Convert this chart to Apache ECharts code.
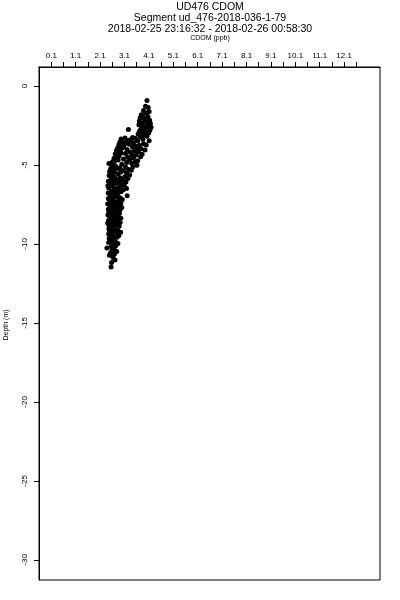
<!DOCTYPE html>
<html><head><meta charset="utf-8">
<script src="https://cdn.jsdelivr.net/npm/echarts@6/dist/echarts.min.js"></script>
<style>html,body{margin:0;padding:0;background:#fff}#c{width:400px;height:600px}</style>
</head><body><div id="c"></div>
<script>
var titleLines = ["UD476 CDOM", "Segment ud_476-2018-036-1-79", "2018-02-25 23:16:32 - 2018-02-26 00:58:30"];
var xAxisTitle = "CDOM (ppb)";
var yAxisTitle = "Depth (m)";
var xTickLabels = [0.1, 1.1, 2.1, 3.1, 4.1, 5.1, 6.1, 7.1, 8.1, 9.1, 10.1, 11.1, 12.1];
var xMinorTicks = [0.1,0.6,1.1,1.6,2.1,2.6,3.1,3.6,4.1,4.6,5.1,5.6,6.1,6.6,7.1,7.6,8.1,8.6,9.1,9.6,10.1,10.6,11.1,11.6,12.1,12.6];
var yTicks = [0, -5, -10, -15, -20, -25, -30];

var depth = [
 -0.92,-1.28,-1.36,-1.55,-1.62,-1.71,-1.83,-1.94,-2.02,-2.08,-2.17,-2.21,-2.33,-2.38,-2.46,-2.52,-2.57,-2.61,-2.69,-2.74,
 -2.81,-2.86,-2.93,-2.97,-3.04,-3.12,-2.76,-3.18,-3.22,-3.29,-3.31,-3.36,-3.41,-3.38,-3.47,-3.52,-3.55,-3.49,-3.61,-3.66,
 -3.58,-3.72,-3.69,-3.77,-3.81,-3.74,-3.86,-3.92,-3.88,-3.97,-4.03,-3.95,-4.08,-4.12,-4.06,-4.19,-4.24,-4.16,-4.28,-4.33,
 -4.31,-4.39,-4.44,-4.37,-4.51,-4.48,-4.57,-4.62,-4.55,-4.68,-4.73,-4.66,-4.79,-4.84,-4.82,-4.91,-4.96,-4.88,-5.02,-5.07,
 -5.04,-5.13,-5.18,-5.11,-5.24,-5.29,-5.22,-5.35,-5.41,-5.33,-5.46,-5.52,-5.44,-5.58,-5.63,-5.56,-5.69,-5.74,-5.67,-5.81,
 -5.86,-5.79,-5.92,-5.97,-5.90,-6.03,-6.08,-6.01,-6.14,-6.19,-6.12,-6.26,-6.31,-6.23,-6.37,-6.42,-6.35,-6.49,-6.54,-6.46,
 -6.61,-6.66,-6.58,-6.72,-6.77,-6.70,-6.84,-6.89,-6.81,-6.95,-7.01,-6.93,-7.07,-7.12,-7.04,-7.18,-7.24,-7.16,-7.30,-7.35,
 -7.27,-7.41,-7.46,-7.39,-7.53,-7.58,-7.50,-7.64,-7.69,-7.61,-7.76,-7.81,-7.73,-7.87,-7.92,-7.85,-7.99,-8.04,-7.96,-8.10,
 -8.16,-8.08,-8.22,-8.27,-8.19,-8.33,-8.38,-8.31,-8.45,-8.50,-8.42,-8.56,-8.62,-8.54,-8.68,-8.73,-8.65,-8.79,-8.85,-8.77,
 -8.91,-8.96,-8.88,-9.03,-9.08,-9.00,-9.14,-9.19,-9.11,-9.26,-9.31,-9.23,-9.37,-9.42,-9.34,-9.49,-9.54,-9.46,-9.61,-9.66,
 -9.58,-9.72,-9.78,-9.84,-9.91,-9.97,-10.04,-10.12,-10.18,-10.26,-10.31,-10.38,-10.47,-10.55,-10.63,-10.72,-10.86,-11.02,-11.18,-11.46,
 -3.27,-3.44,-3.63,-3.83,-4.01,-4.21,-4.42,-4.59,-4.76,-4.94,-5.15,-5.38,-5.61,-5.84,-6.06,-6.28,-6.52,-6.75,-6.98,-7.21,
 -7.44,-7.67,-7.90,-8.13,-8.36,-8.59,-8.82,-9.05,-9.28,-9.51,-9.74,-2.41,-2.63,-2.89,-3.08,-1.98,-2.27,-3.95,-4.47,-5.27
];
var cdom = [
 4.02,3.96,4.07,3.88,4.11,3.97,3.79,4.06,3.74,3.92,4.13,3.71,3.86,4.16,3.69,4.04,3.83,4.19,3.93,3.77,
 4.14,3.71,3.98,4.09,3.66,3.86,3.26,4.02,3.74,3.12,3.54,2.96,3.36,3.85,4.11,3.19,2.91,3.64,3.47,3.88,
 3.02,2.87,3.29,3.71,3.56,3.99,3.08,2.82,3.43,3.78,3.21,3.62,2.77,3.51,3.94,3.33,2.96,3.67,3.14,3.82,
 2.72,3.41,2.88,3.58,3.23,3.76,2.67,3.06,3.47,2.84,3.64,3.31,2.61,3.19,3.53,2.46,2.99,3.39,3.61,2.73,
 2.58,3.14,2.91,3.44,2.53,3.27,2.79,3.06,2.49,3.38,2.68,3.19,2.95,2.52,3.31,2.84,2.63,3.11,2.47,2.92,
 3.24,2.71,2.55,3.03,2.86,2.44,3.16,2.66,2.93,2.49,2.78,3.09,2.42,2.61,2.97,2.83,2.51,3.18,2.69,2.45,
 2.88,2.57,3.04,2.74,2.43,2.95,2.62,2.81,2.49,3.21,2.71,2.56,2.92,2.44,2.78,3.01,2.62,2.48,2.86,2.69,
 2.53,2.95,2.41,2.77,2.63,2.87,2.47,2.72,2.99,2.56,2.83,2.44,2.67,2.91,2.52,2.76,2.46,2.84,2.61,2.73,
 2.42,2.89,2.57,2.68,2.48,2.81,2.95,2.54,2.71,2.45,2.86,2.63,2.52,2.77,2.41,2.69,2.92,2.58,2.47,2.79,
 2.64,2.53,2.88,2.46,2.73,2.61,2.82,2.49,2.67,2.94,2.56,2.75,2.45,2.84,2.62,2.51,2.71,2.87,2.58,2.47,
 2.79,2.64,2.53,2.72,2.45,2.83,2.61,2.74,2.56,2.38,2.67,2.59,2.78,2.53,2.69,2.48,2.63,2.71,2.57,2.55,
 3.43,3.27,3.13,3.04,2.92,2.83,2.78,2.71,2.69,2.58,2.64,2.61,2.57,2.66,2.59,2.64,2.68,2.61,2.66,2.58,
 2.62,2.67,2.59,2.63,2.58,2.66,2.61,2.64,2.57,2.62,2.66,3.84,4.01,3.81,3.92,3.86,4.01,2.99,2.81,2.66
];

var pts = cdom.map(function (v, i) { return [v, depth[i]]; });
var FONT = '"Liberation Sans", Arial, sans-serif';
var chart = echarts.init(document.getElementById('c'), null, {renderer: 'canvas'});
chart.setOption({
  animation: false,
  backgroundColor: '#fff',
  grid: {left: 39, right: 20, top: 67, bottom: 20, show: true, borderColor: '#000', borderWidth: 1, backgroundColor: 'transparent'},
  xAxis: {
    type: 'value', position: 'top', min: -0.404, max: 13.57,
    splitLine: {show: false},
    axisLine: {show: true, onZero: false, lineStyle: {color: '#000', width: 1}},
    axisTick: {show: true, inside: false, length: 5, lineStyle: {color: '#000'}, customValues: xMinorTicks},
    axisLabel: {show: true, margin: 7, fontSize: 8, color: '#000', fontFamily: FONT, customValues: xTickLabels,
      formatter: function (v) { return v.toFixed(1); }}
  },
  yAxis: {
    type: 'value', min: -31.27, max: 1.2,
    splitLine: {show: false},
    axisLine: {show: true, onZero: false, lineStyle: {color: '#000', width: 1}},
    axisTick: {show: true, inside: false, length: 5, lineStyle: {color: '#000'}, customValues: yTicks},
    axisLabel: {show: true, rotate: 90, margin: 10, fontSize: 8, color: '#000', fontFamily: FONT, customValues: yTicks}
  },
  graphic: [
    {type: 'text', x: 210, y: 7, style: {text: titleLines[0], fill: '#000', font: '10.5px ' + FONT, align: 'center', verticalAlign: 'middle'}},
    {type: 'text', x: 210, y: 18, style: {text: titleLines[1], fill: '#000', font: '10.5px ' + FONT, align: 'center', verticalAlign: 'middle'}},
    {type: 'text', x: 210, y: 29, style: {text: titleLines[2], fill: '#000', font: '10.5px ' + FONT, align: 'center', verticalAlign: 'middle'}},
    {type: 'text', x: 210, y: 38, style: {text: xAxisTitle, fill: '#000', font: '7px ' + FONT, align: 'center', verticalAlign: 'middle'}},
    {type: 'text', x: 6, y: 325, rotation: Math.PI / 2, style: {text: yAxisTitle, fill: '#000', font: '7px ' + FONT, align: 'center', verticalAlign: 'middle'}}
  ],
  series: [{
    type: 'scatter', data: pts, symbol: 'circle', symbolSize: 5,
    itemStyle: {color: '#000', opacity: 1}, silent: true
  }]
});
</script></body></html>
